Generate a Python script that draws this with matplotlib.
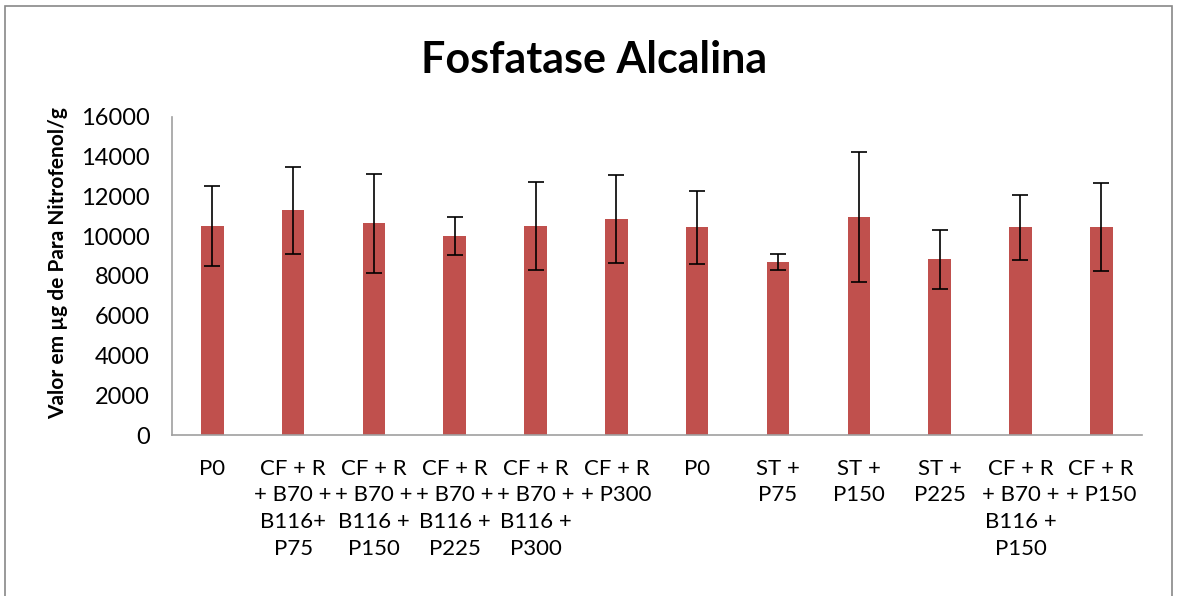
import matplotlib
matplotlib.use("Agg")
from matplotlib import pyplot as plt
from matplotlib.patches import Rectangle

plt.rcParams["font.family"] = ["Lato", "DejaVu Sans"]

labels = ["P0",
          "CF + R\n+ B70 +\nB116+\nP75",
          "CF + R\n+ B70 +\nB116 +\nP150",
          "CF + R\n+ B70 +\nB116 +\nP225",
          "CF + R\n+ B70 +\nB116 +\nP300",
          "CF + R\n+ P300",
          "P0",
          "ST +\nP75",
          "ST +\nP150",
          "ST +\nP225",
          "CF + R\n+ B70 +\nB116 +\nP150",
          "CF + R\n+ P150"]
values = [10500, 11300, 10650, 10000, 10500, 10850, 10450, 8700, 10970, 8830, 10450, 10450]
errors = [2000, 2200, 2500, 960, 2220, 2200, 1840, 400, 3260, 1490, 1640, 2200]
yticks = [0, 2000, 4000, 6000, 8000, 10000, 12000, 14000, 16000]

fig = plt.figure(figsize=(11.77, 5.96), dpi=100)
ax = fig.add_axes([0.146, 0.270, 0.824, 0.534])

x = range(len(values))
ax.bar(x, values, width=0.28, color="#C0504D", yerr=errors,
       error_kw=dict(ecolor="black", elinewidth=1.2, capsize=6, capthick=1.2))

ax.set_xlim(-0.5, len(values) - 0.5)
ax.set_ylim(0, 16000)
ax.set_yticks(yticks)
ax.set_xticks(list(x))
ax.set_xticklabels(labels, fontsize=16, linespacing=1.42, va="top")
ax.tick_params(axis="x", length=0, pad=17)
ax.tick_params(axis="y", labelsize=17, length=0, pad=16)
for s in ["top", "right"]:
    ax.spines[s].set_visible(False)
for s in ["left", "bottom"]:
    ax.spines[s].set_color("#a0a0a0")
    ax.spines[s].set_linewidth(1.2)

ax.set_ylabel("Valor em µg de Para Nitrofenol/g", fontsize=15, fontweight="bold")
ax.yaxis.set_label_coords(-0.107, 0.54)
fig.text(0.505, 0.900, "Fosfatase Alcalina", ha="center", va="center",
         fontsize=31, fontweight="bold")

fig.patches.append(Rectangle((0.004, -0.01), 0.992, 1.0, transform=fig.transFigure,
                             fill=False, edgecolor="#888888", linewidth=1.2))

fig.savefig("out.png", dpi=100)
